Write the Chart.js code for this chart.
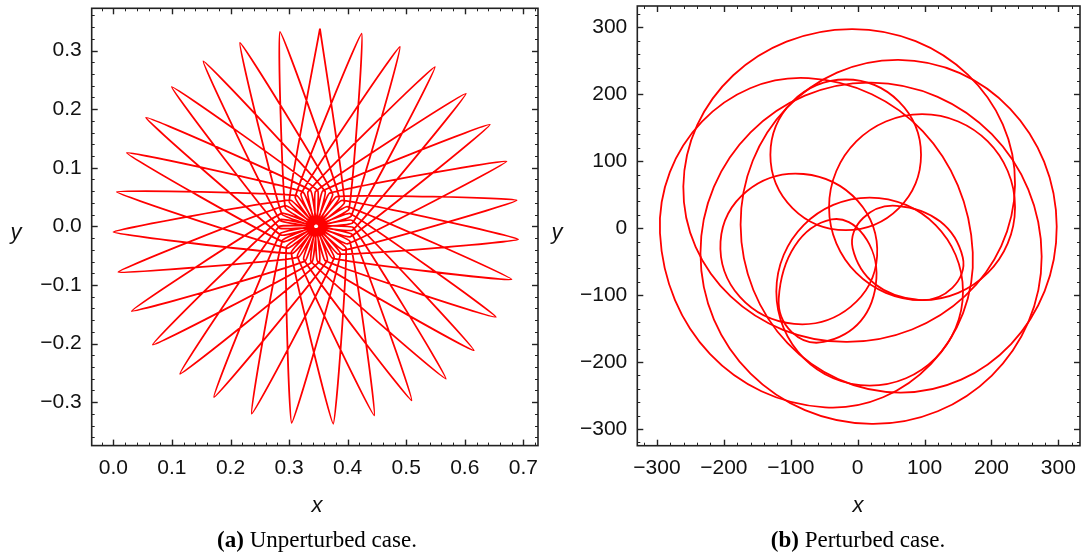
<!DOCTYPE html>
<html>
<head>
<meta charset="utf-8">
<script src="https://cdn.jsdelivr.net/npm/chart.js@4.4.1/dist/chart.umd.min.js"></script>
<style>
  body { margin: 0; background: #fff; width: 1085px; height: 560px; position: relative; overflow: hidden; }
  .box { position: absolute; top: 0; height: 500px; }
  #boxA { left: 0; width: 545px; }
  #boxB { left: 545px; width: 540px; }
  .lab { position: absolute; font-family: "Liberation Sans", Arial, sans-serif; font-style: italic; font-size: 22px; color: #111; transform: translate(-50%, -50%); }
  .cap { position: absolute; top: 540px; font-family: "Liberation Serif", "Times New Roman", serif; font-size: 23px; color: #000; white-space: nowrap; transform: translate(-50%, -50%); }
</style>
</head>
<body>
<div class="box" id="boxA"><canvas id="chartA" width="545" height="500"></canvas></div>
<div class="box" id="boxB"><canvas id="chartB" width="540" height="500"></canvas></div>
<div class="lab" style="left:16px;top:232px">y</div>
<div class="lab" style="left:557px;top:232px">y</div>
<div class="lab" style="left:317px;top:505px">x</div>
<div class="lab" style="left:858px;top:505px">x</div>
<div class="cap" style="left:317px"><b>(a)</b> Unperturbed case.</div>
<div class="cap" style="left:858px"><b>(b)</b> Perturbed case.</div>
<script>
// ---- panel (a): unperturbed rosette, petal tips (clockwise from top) ----
const tipX = [0.3527, 0.4239, 0.4892, 0.5490, 0.6019, 0.6428, 0.6713, 0.6884, 0.6911, 0.6799, 0.6531,
  0.6155, 0.5677, 0.5092, 0.4454, 0.3754, 0.3044, 0.2362, 0.1718, 0.1138, 0.0672, 0.0314, 0.0085,
  0.0000, 0.0058, 0.0229, 0.0558, 0.0997, 0.1536, 0.2162, 0.2845];
const tipY = [0.3374, 0.3288, 0.3061, 0.2720, 0.2265, 0.1735, 0.1109, 0.0444, -0.0222, -0.0904, -0.1546,
  -0.2116, -0.2599, -0.2969, -0.3225, -0.3367, -0.3350, -0.3196, -0.2911, -0.2514, -0.2019, -0.1444, -0.0778,
  -0.0096, 0.0587, 0.1253, 0.1855, 0.2379, 0.2816, 0.3130, 0.3317];
// order in which the orbit visits the tips
const tipOrder = [0, 14, 28, 11, 25, 8, 22, 5, 19, 2, 16, 30, 13, 27, 10, 24, 7, 21, 4, 18, 1, 15, 29, 12, 26, 9, 23, 6, 20, 3, 17, 0];
// points on each pass through the middle (end of straight run, closest to centre, start of next straight run)
const q1X = [0.3944, 0.3141, 0.3615, 0.3488, 0.3236, 0.3839, 0.2939, 0.4047, 0.2827, 0.4060, 0.2954, 0.3856, 0.3249, 0.3487, 0.3618, 0.3130,
  0.3927, 0.2881, 0.4084, 0.2852, 0.4021, 0.3038, 0.3744, 0.3373, 0.3366, 0.3739, 0.3021, 0.3995, 0.2840, 0.4082, 0.2886];
const q1Y = [0.0404, -0.0507, 0.0597, -0.0600, 0.0589, -0.0472, 0.0353, -0.0177, -0.0005, 0.0176, -0.0350, 0.0488, -0.0562, 0.0613, -0.0586, 0.0523,
  -0.0406, 0.0225, -0.0064, -0.0121, 0.0293, -0.0443, 0.0552, -0.0595, 0.0613, -0.0540, 0.0446, -0.0299, 0.0114, 0.0058, -0.0239];
const midX = [0.3508, 0.3418, 0.3495, 0.3436, 0.3470, 0.3464, 0.3442, 0.3489, 0.3420, 0.3506, 0.3414, 0.3506, 0.3423, 0.3488, 0.3445, 0.3461,
  0.3473, 0.3434, 0.3497, 0.3417, 0.3509, 0.3415, 0.3502, 0.3429, 0.3480, 0.3455, 0.3451, 0.3481, 0.3426, 0.3502, 0.3414];
const midY = [0.0007, -0.0019, 0.0032, -0.0039, 0.0047, -0.0045, 0.0043, -0.0035, 0.0025, -0.0013, -0.0002, 0.0016, -0.0027, 0.0038, -0.0043, 0.0047,
  -0.0045, 0.0037, -0.0029, 0.0017, -0.0004, -0.0011, 0.0024, -0.0034, 0.0043, -0.0045, 0.0046, -0.0041, 0.0032, -0.0022, 0.0008];
const q2X = [0.4037, 0.2849, 0.4076, 0.2896, 0.3904, 0.3157, 0.3574, 0.3518, 0.3203, 0.3876, 0.2935, 0.4081, 0.2840, 0.4041, 0.2971, 0.3812,
  0.3270, 0.3452, 0.3653, 0.3105, 0.3972, 0.2878, 0.4095, 0.2862, 0.3991, 0.3060, 0.3692, 0.3390, 0.3322, 0.3770, 0.3003];
const q2Y = [-0.0255, 0.0098, 0.0103, -0.0263, 0.0442, -0.0528, 0.0604, -0.0602, 0.0552, -0.0465, 0.0317, -0.0140, -0.0028, 0.0220, -0.0373, 0.0508,
  -0.0594, 0.0596, -0.0582, 0.0498, -0.0372, 0.0206, -0.0021, -0.0149, 0.0338, -0.0460, 0.0567, -0.0611, 0.0587, -0.0534, 0.0418];

const xTicksA = [0, 0.1, 0.2, 0.3, 0.4, 0.5, 0.6, 0.7];
const yTicksA = [-0.3, -0.2, -0.1, 0, 0.1, 0.2, 0.3];

// ---- panel (b): perturbed orbit, loops read as top / right / bottom / left points ----
const loopX = [
  [-17.9, 94.7, -17.9, -130.5],
  [96.2, 235.2, 96.2, -42.8],
  [58.3, 157.1, 91.3, -7.5],
  [-81, 29, -95, -205],
  [-39, 28, -51, -118],
  [17.9, 157.4, 17.9, -121.6],
  [-9, 235.2, -16, -260.6],
  [60.8, 297.5, 63.3, -175],
  [-73.7, 172, -48.8, -295.5],
  [20, 275, 20.9, -235]
];
const loopY = [
  [222.2, 109.6, -3.0, 109.6],
  [170.4, 31.4, -107.6, 31.4],
  [33.4, -43.9, -107.2, -29.9],
  [81, -42, -143, -20],
  [13, -75, -170, -105],
  [45.8, -94.7, -235.2, -94.7],
  [297.5, 64.8, -170, 62.3],
  [251.6, 2.5, -245.6, 5],
  [224.2, -36, -267.6, -7.5],
  [217.5, -42.4, -292.5, -37.5]
];
const xTicksB = [-300, -200, -100, 0, 100, 200, 300];
const yTicksB = [-300, -200, -100, 0, 100, 200, 300];

const RED = '#ff0000';
const FONT = '"Liberation Sans", Arial, sans-serif';

function fmt(v, d) {
  const s = Math.abs(v).toFixed(d);
  return (v < -1e-9 ? '\u2212' : '') + s;
}

function minorTicks(lo, hi, step) {
  const out = [];
  const n0 = Math.ceil(lo / step - 1e-9), n1 = Math.floor(hi / step + 1e-9);
  for (let n = n0; n <= n1; n++) out.push(+(n * step).toFixed(6));
  return out;
}

// frame with inward ticks on all four sides (Mathematica style)
const frameTicks = {
  id: 'frameTicks',
  afterDatasetsDraw(chart, args, opts) {
    const { ctx, chartArea: a, scales: { x, y } } = chart;
    ctx.save();
    ctx.strokeStyle = '#222';
    ctx.lineWidth = 1;
    const seg = (x1, y1, x2, y2) => { ctx.beginPath(); ctx.moveTo(x1, y1); ctx.lineTo(x2, y2); ctx.stroke(); };
    const doX = (vals, len) => vals.forEach(v => {
      const p = Math.round(x.getPixelForValue(v)) + 0.5;
      seg(p, a.bottom, p, a.bottom - len); seg(p, a.top, p, a.top + len);
    });
    const doY = (vals, len) => vals.forEach(v => {
      const p = Math.round(y.getPixelForValue(v)) + 0.5;
      seg(a.left, p, a.left + len, p); seg(a.right, p, a.right - len, p);
    });
    doX(opts.xMinor, 3); doY(opts.yMinor, 3);
    ctx.lineWidth = 1.4;
    doX(opts.xMajor, 6); doY(opts.yMajor, 6);
    ctx.lineWidth = 1.6;
    ctx.strokeRect(a.left, a.top, a.width, a.height);
    ctx.restore();
  }
};

function axis(min, max, ticks, dec, fit) {
  return {
    type: 'linear', min, max,
    grid: { display: false, drawTicks: false },
    border: { display: false },
    afterBuildTicks: s => { s.ticks = ticks.map(v => ({ value: v })); },
    afterFit: s => { fit(s); s.paddingTop = 0; s.paddingBottom = 0; s.paddingLeft = 0; s.paddingRight = 0; },
    ticks: {
      autoSkip: false, maxRotation: 0, padding: 10, color: '#111',
      font: { family: FONT, size: 21 },
      callback: v => fmt(v, dec)
    }
  };
}

function makeChart(id, datasets, xr, yr, xt, yt, dec, pad, yWidth, xHeight, minors) {
  return new Chart(document.getElementById(id), {
    type: 'scatter',
    data: { datasets },
    options: {
      responsive: false, animation: false,
      layout: { padding: pad, autoPadding: false },
      plugins: { legend: { display: false }, tooltip: { enabled: false }, frameTicks: minors },
      scales: {
        x: axis(xr[0], xr[1], xt, dec, s => { s.height = xHeight; }),
        y: axis(yr[0], yr[1], yt, dec, s => { s.width = yWidth; })
      }
    },
    plugins: [frameTicks]
  });
}

// build panel (a) path
const pathA = [];
for (let k = 0; k < q1X.length; k++) {
  const t = tipOrder[k];
  pathA.push({ x: tipX[t], y: tipY[t] });
  pathA.push({ x: q1X[k], y: q1Y[k] });
  pathA.push({ x: midX[k], y: midY[k] });
  pathA.push({ x: q2X[k], y: q2Y[k] });
}
pathA.push({ x: tipX[tipOrder[q1X.length]], y: tipY[tipOrder[q1X.length]] });

makeChart('chartA',
  [{ data: pathA, showLine: true, borderColor: RED, borderWidth: 1.8, pointRadius: 0, tension: 0.1, borderJoinStyle: 'round' }],
  [-0.037, 0.725], [-0.374, 0.372], xTicksA, yTicksA, 1,
  { top: 8.3, right: 7, left: 0, bottom: 0 }, 91.7, 54.4,
  { xMajor: xTicksA, yMajor: yTicksA, xMinor: minorTicks(-0.037, 0.725, 0.02), yMinor: minorTicks(-0.374, 0.372, 0.02) });

// build panel (b) loops: wrap around so every drawn piece is smooth
const dsB = loopX.map((lx, i) => {
  const ly = loopY[i];
  const idx = [3, 0, 1, 2, 3, 0, 1];
  return {
    data: idx.map(j => ({ x: lx[j], y: ly[j] })),
    showLine: true, borderColor: RED, borderWidth: 1.8, pointRadius: 0, tension: 0.552,
    segment: { borderColor: c => (c.p0DataIndex === 0 || c.p0DataIndex === 5) ? 'rgba(0,0,0,0)' : RED }
  };
});

makeChart('chartB', dsB,
  [-329.4, 332.3], [-325, 332], xTicksB, yTicksB, 0,
  { top: 6, right: 5, left: 0, bottom: 0 }, 92.3, 54.3,
  { xMajor: xTicksB, yMajor: yTicksB, xMinor: minorTicks(-329.4, 332.3, 20), yMinor: minorTicks(-325, 332, 20) });
</script>
</body>
</html>
